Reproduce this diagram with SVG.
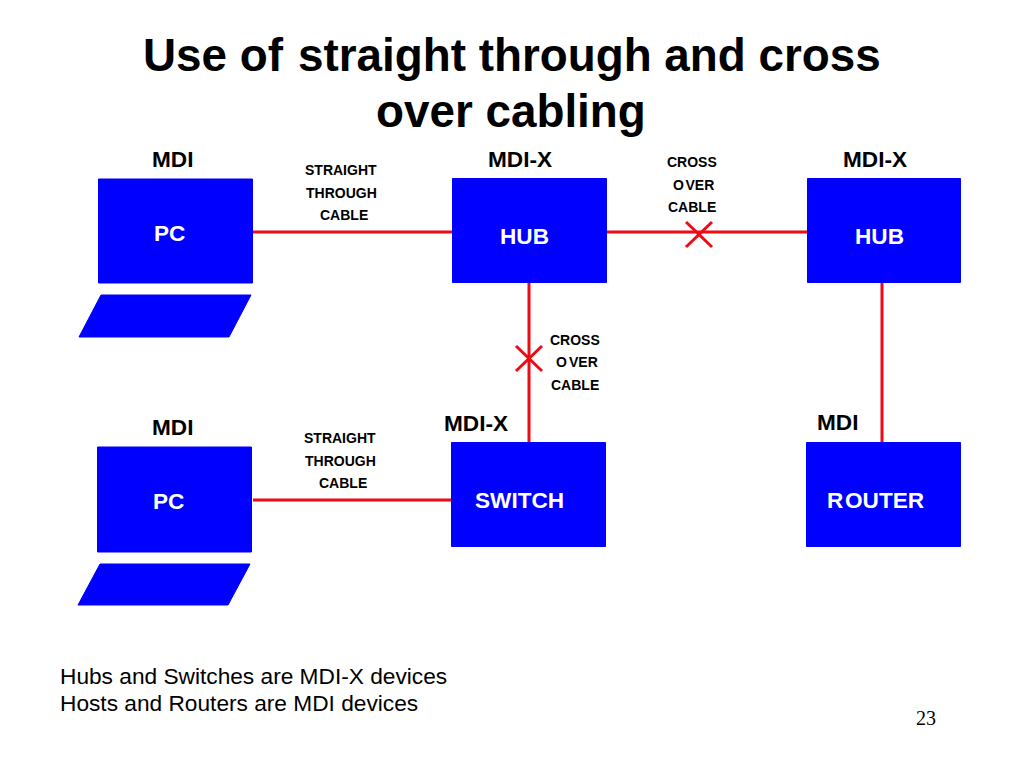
<svg xmlns="http://www.w3.org/2000/svg" width="1024" height="768" viewBox="0 0 1024 768">
<style>
text{font-family:"Liberation Sans",Arial,sans-serif;fill:#000}
.t{font-size:45.800px;font-weight:700}
.m{font-size:22.600px;font-weight:700}
.s{font-size:14px;font-weight:700;stroke:none}
.n{font-size:22.600px;font-weight:700;fill:#fff}
.b{fill:#0000ff;stroke:#0000ff;stroke-width:1;stroke-linejoin:round}
.l{stroke:#f00a14;stroke-width:3;fill:none}
.f{font-size:22.700px}
</style>
<rect width="1024" height="768" fill="#fff"/>
<g id="title">
<text class="t" x="143" y="71">Use of</text><text class="t" x="298" y="71">straight through and cross</text>
<text class="t" x="376" y="127">over cabling</text>
</g>
<g id="connectors">
<path class="l" d="M253 232H452M607 232H807M529 283V442M882 283V442M253 500H452"/>
<path class="l" d="M686 222L712 247M712 222L686 247M516 346L542 371M542 346L516 371"/>
</g>
<g id="pc1"><rect class="b" x="98.500" y="179" width="154" height="104"/><path class="b" d="M101 295H251L229 337H79Z"/><text class="n" x="154" y="241">PC</text></g>
<g id="hub1"><rect class="b" x="452.500" y="178.500" width="154" height="104"/><text class="n" x="500" y="244">HUB</text></g>
<g id="hub2"><rect class="b" x="807.500" y="178.500" width="153" height="104"/><text class="n" x="855" y="244">HUB</text></g>
<g id="pc2"><rect class="b" x="97.500" y="447" width="154" height="105"/><path class="b" d="M100 564H250L228 605H78Z"/><text class="n" x="153" y="509">PC</text></g>
<g id="switch"><rect class="b" x="451.500" y="442.500" width="154" height="104"/><text class="n" x="475" y="508">SWITCH</text></g>
<g id="router"><rect class="b" x="806.500" y="442.500" width="154" height="104"/><text class="n" x="827" y="508">R</text><text class="n" x="845" y="508">OUTER</text></g>
<g id="labels">
<text class="m" x="152" y="167">MDI</text><text class="m" x="488" y="167">MDI-X</text><text class="m" x="843" y="167">MDI-X</text>
<text class="m" x="152" y="435">MDI</text><text class="m" x="444" y="431">MDI-X</text><text class="m" x="817" y="430">MDI</text>
<text class="s" x="305" y="175">STRAIGHT</text><text class="s" x="306" y="198">THROUGH</text><text class="s" x="320" y="220">CABLE</text>
<text class="s" x="304" y="443">STRAIGHT</text><text class="s" x="305" y="466">THROUGH</text><text class="s" x="319" y="488">CABLE</text>
<text class="s" x="667" y="167">CROSS</text><text class="s" x="673" y="190">O</text><text class="s" x="685.500" y="190">VER</text><text class="s" x="668" y="212">CABLE</text>
<text class="s" x="550" y="345">CROSS</text><text class="s" x="556" y="367">O</text><text class="s" x="569" y="367">VER</text><text class="s" x="551" y="390">CABLE</text>
</g>
<g id="notes">
<text class="f" x="60" y="684">Hubs and Switches are MDI-X devices</text>
<text class="f" x="60" y="711">Hosts and Routers are MDI devices</text>
<text x="916" y="725" style="font-family:'Liberation Serif',serif;font-size:20px">23</text>
</g>
</svg>
